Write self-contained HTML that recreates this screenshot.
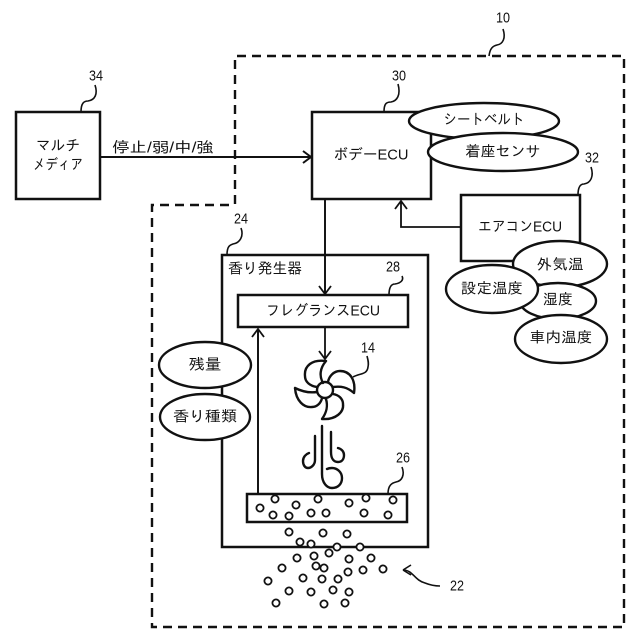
<!DOCTYPE html>
<html><head><meta charset="utf-8">
<style>html,body{margin:0;padding:0;background:#fff}svg{display:block}
text{font-family:"Liberation Sans","IPAGothic","Noto Sans CJK JP",sans-serif;font-size:15px;fill:#111;text-anchor:middle;dominant-baseline:central}
.n{font-size:15px}
</style></head><body>
<svg width="640" height="640" viewBox="0 0 640 640" xmlns="http://www.w3.org/2000/svg">
<g fill="none" stroke="#111" stroke-width="2">
<path d="M235 204V56H624V627H152V205H235" stroke-width="2.4" stroke-dasharray="9 6"/>
<path d="M100 157H311M303 151L311 157L303 163"/>
<path d="M325 199V294M319 286L325 294L331 286" stroke-width="1.8"/>
<path d="M461 227H401V201M395 209L401 201L407 209" stroke-width="1.8"/>
<path d="M325 327V359M319 351L325 359L331 351" stroke-width="1.8"/>
<path d="M258 494V329M252 337L258 329L264 337" stroke-width="1.8"/>
<g stroke-width="2.5" fill="#fff">
<rect x="16" y="112" width="84" height="87"/>
<rect x="312" y="112" width="119" height="87"/>
<rect x="461" y="195" width="119" height="66"/>
</g>
<rect x="222" y="255" width="206" height="292" stroke-width="2.5"/>
<rect x="238" y="295" width="170" height="32" stroke-width="2.5" fill="#fff"/>
<rect x="247" y="494" width="160" height="28" stroke-width="2.5" fill="#fff"/>
<path d="M325 199V294" stroke-width="1.8"/>
<path d="M258 494V329" stroke-width="1.8"/>
<g stroke-width="2.4" fill="#fff">
<ellipse cx="484" cy="121" rx="75" ry="18"/>
<ellipse cx="503" cy="152" rx="75" ry="19"/>
<ellipse cx="560" cy="264" rx="47" ry="23"/>
<ellipse cx="558" cy="301" rx="38" ry="18"/>
<ellipse cx="492" cy="289" rx="46" ry="24"/>
<ellipse cx="561" cy="339" rx="46" ry="24"/>
<ellipse cx="205" cy="365" rx="46" ry="23"/>
<ellipse cx="205" cy="417" rx="45" ry="23"/>
</g>
<g stroke-width="1.6">
<path d="M489 56C490 48 493 46 497 45C503 44 506 38 503 29"/>
<path d="M384 112C384 104 386 102 391 102C397 101 401 95 398 84"/>
<path d="M578 195C578 186 581 184 584 184C591 183 594 176 591 167"/>
<path d="M81 112C81 103 84 101 88 101C95 100 98 94 95 85"/>
<path d="M227 255C227 246 230 245 233 244C240 243 244 236 241 228"/>
<path d="M389 295C389 286 392 284 395 284C401 283 404 280 402 276"/>
<path d="M353 377C360 373 367 375 368 367C369 363 368 360 367 356"/>
<path d="M388 494C388 485 392 483 396 482C402 481 405 475 402 467"/>
<path d="M403 570C413 570 414 580 425 583C430 585 435 586 440 586M403 570L411 565M403 570L411 575"/>
</g>
<g stroke-width="2.4" stroke-linejoin="round" stroke-linecap="round">
<path d="M326 361C312 359 304 366 305 376C305 382 310 386 317 387M326 361C320 368 319 376 323 383"/>
<path d="M354 393C356 380 350 371 340 371C334 371 329 376 328 382M354 393C347 387 341 386 333 387"/>
<path d="M322 419C336 420 344 412 343 404C343 399 339 395 333 394M322 419C327 412 328 406 326 399"/>
<path d="M295 388C296 401 304 408 312 407C317 407 321 403 322 398M295 388C303 392 310 393 317 392"/>
<circle cx="325" cy="390" r="8"/>
<path d="M322 426V474C322 483 327 488 332 488C338 488 342 484 342 478C342 472 337 468 332 468C330 468 329 468 327 469"/>
<path d="M315 436V460C315 465 311 468 308 468C305 468 303 465 303 461C303 457 306 454 309 453"/>
<path d="M331 432V452C331 459 334 462 338 462C342 462 344 459 344 455C344 452 342 449 338 448"/>
</g>
<g stroke-width="1.8" fill="#fff">
<circle cx="275" cy="499" r="3.6"/><circle cx="260" cy="508" r="3.6"/><circle cx="273" cy="515" r="3.6"/><circle cx="289" cy="516" r="3.6"/><circle cx="296" cy="505" r="3.6"/><circle cx="318" cy="499" r="3.6"/><circle cx="311" cy="513" r="3.6"/><circle cx="326" cy="513" r="3.6"/><circle cx="349" cy="503" r="3.6"/><circle cx="366" cy="498" r="3.6"/><circle cx="364" cy="513" r="3.6"/><circle cx="393" cy="500" r="3.6"/><circle cx="388" cy="515" r="3.6"/>
<circle cx="289" cy="532" r="3.6"/><circle cx="323" cy="533" r="3.6"/><circle cx="347" cy="534" r="3.6"/><circle cx="300" cy="542" r="3.6"/><circle cx="311" cy="544" r="3.6"/><circle cx="337" cy="547" r="3.6"/><circle cx="360" cy="547" r="3.6"/><circle cx="329" cy="553" r="3.6"/><circle cx="297" cy="558" r="3.6"/><circle cx="314" cy="556" r="3.6"/><circle cx="349" cy="559" r="3.6"/><circle cx="371" cy="558" r="3.6"/><circle cx="282" cy="568" r="3.6"/><circle cx="316" cy="566" r="3.6"/><circle cx="324" cy="568" r="3.6"/><circle cx="348" cy="572" r="3.6"/><circle cx="363" cy="570" r="3.6"/><circle cx="383" cy="569" r="3.6"/><circle cx="268" cy="581" r="3.6"/><circle cx="303" cy="578" r="3.6"/><circle cx="322" cy="579" r="3.6"/><circle cx="338" cy="579" r="3.6"/><circle cx="289" cy="591" r="3.6"/><circle cx="311" cy="592" r="3.6"/><circle cx="333" cy="590" r="3.6"/><circle cx="349" cy="592" r="3.6"/><circle cx="276" cy="603" r="3.6"/><circle cx="324" cy="604" r="3.6"/><circle cx="345" cy="603" r="3.6"/>
</g>
</g>
<text x="503" y="18" class="n" textLength="14" lengthAdjust="spacingAndGlyphs">10</text>
<text x="399" y="76" class="n" textLength="14" lengthAdjust="spacingAndGlyphs">30</text>
<text x="592" y="158" class="n" textLength="14" lengthAdjust="spacingAndGlyphs">32</text>
<text x="96" y="76" class="n" textLength="14" lengthAdjust="spacingAndGlyphs">34</text>
<text x="241" y="219" class="n" textLength="14" lengthAdjust="spacingAndGlyphs">24</text>
<text x="393" y="267" class="n" textLength="14" lengthAdjust="spacingAndGlyphs">28</text>
<text x="368" y="348" class="n" textLength="14" lengthAdjust="spacingAndGlyphs">14</text>
<text x="403" y="458" class="n" textLength="14" lengthAdjust="spacingAndGlyphs">26</text>
<text x="457" y="586" class="n" textLength="14" lengthAdjust="spacingAndGlyphs">22</text>
<text x="58" y="146" textLength="44" lengthAdjust="spacingAndGlyphs">マルチ</text>
<text x="58" y="165" textLength="50" lengthAdjust="spacingAndGlyphs">メディア</text>
<text x="163" y="148" textLength="102" lengthAdjust="spacingAndGlyphs">停止/弱/中/強</text>
<text x="371" y="155" textLength="75" lengthAdjust="spacingAndGlyphs">ボデーECU</text>
<text x="484" y="120" textLength="81" lengthAdjust="spacingAndGlyphs">シートベルト</text>
<text x="503" y="152" textLength="75" lengthAdjust="spacingAndGlyphs">着座センサ</text>
<text x="520" y="227" textLength="84" lengthAdjust="spacingAndGlyphs">エアコンECU</text>
<text x="560" y="265" textLength="47" lengthAdjust="spacingAndGlyphs">外気温</text>
<text x="492" y="289" textLength="62" lengthAdjust="spacingAndGlyphs">設定温度</text>
<text x="558" y="300" textLength="30" lengthAdjust="spacingAndGlyphs">湿度</text>
<text x="561" y="338" textLength="63" lengthAdjust="spacingAndGlyphs">車内温度</text>
<text x="265" y="269" textLength="74" lengthAdjust="spacingAndGlyphs">香り発生器</text>
<text x="323" y="311" textLength="114" lengthAdjust="spacingAndGlyphs">フレグランスECU</text>
<text x="205" y="365" textLength="33" lengthAdjust="spacingAndGlyphs">残量</text>
<text x="205" y="417" textLength="64" lengthAdjust="spacingAndGlyphs">香り種類</text>
</svg>
</body></html>
